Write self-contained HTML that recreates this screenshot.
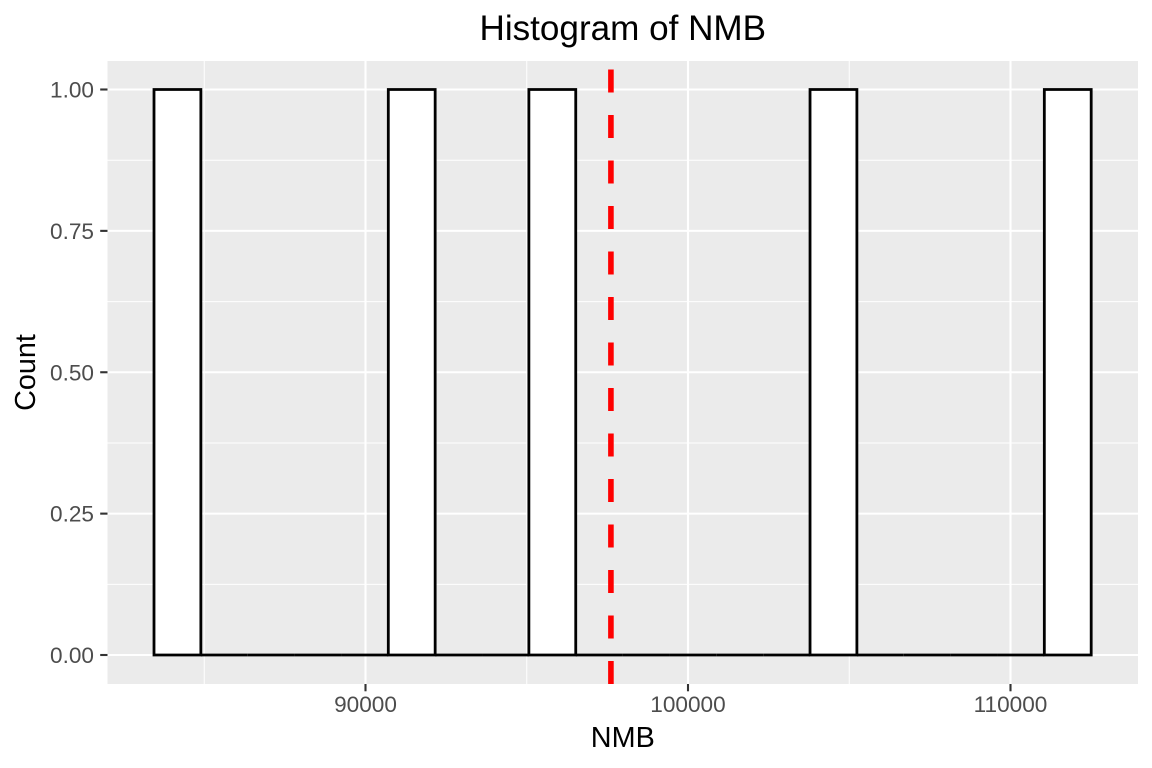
<!DOCTYPE html>
<html>
<head>
<meta charset="utf-8">
<title>Histogram of NMB</title>
<style>
html,body{margin:0;padding:0;background:#fff;width:1152px;height:768px;overflow:hidden}
svg{display:block}
text{font-family:"Liberation Sans",Arial,sans-serif}
</style>
</head>
<body>
<svg id="chart" width="1152" height="768" viewBox="0 0 1152 768" xmlns="http://www.w3.org/2000/svg">
<rect x="107.5" y="61" width="1030.5" height="623" fill="#ebebeb"/>
<g id="grid"></g>
<g id="bars"></g>
<g id="refline"></g>
<g id="xaxis"></g>
<g id="yaxis"></g>
<text x="622.8" y="40" text-anchor="middle" font-size="35.1" fill="#000">Histogram of NMB</text>
<text x="622.8" y="747" text-anchor="middle" font-size="28.8" fill="#000">NMB</text>
<text transform="translate(35,372.5) rotate(-90)" text-anchor="middle" font-size="28.8" fill="#000">Count</text>
</svg>
<script>
const binStart = 83442;
const binWidth = 1453;
const counts = [1,0,0,0,0,1,0,0,1,0,0,0,0,0,1,0,0,0,0,1];
const xTicks = [90000,100000,110000];
const xTickLabels = ['90000','100000','110000'];
const xMinorTicks = [85000,95000,105000];
const yTicks = [0,0.25,0.5,0.75,1];
const yTickLabels = ['0.00','0.25','0.50','0.75','1.00'];
const yMinorTicks = [0.125,0.375,0.625,0.875];
const meanValue = 97610;

const panelLeft = 107.5, panelRight = 1138, panelTop = 61, panelBottom = 684;
const SVGNS = 'http://www.w3.org/2000/svg';
function xScale(v){ return 365.5 + (v - 90000) * 0.03225; }
function yScale(v){ return 655 - v * 565.5; }
function make(parent, tag, attrs){
  const el = document.createElementNS(SVGNS, tag);
  for (const k in attrs) el.setAttribute(k, attrs[k]);
  parent.appendChild(el);
  return el;
}
const grid = document.getElementById('grid');
xMinorTicks.forEach(function(v){
  const el = make(grid, 'line', {x1:xScale(v), x2:xScale(v), y1:panelTop, y2:panelBottom, stroke:'#fff', 'stroke-width':1});
  
  
});
yMinorTicks.forEach(function(v){
  const el = make(grid, 'line', {x1:panelLeft, x2:panelRight, y1:yScale(v), y2:yScale(v), stroke:'#fff', 'stroke-width':1});
  
  
});
xTicks.forEach(function(v){
  const el = make(grid, 'line', {x1:xScale(v), x2:xScale(v), y1:panelTop, y2:panelBottom, stroke:'#fff', 'stroke-width':2.1});
  
  
});
yTicks.forEach(function(v){
  const el = make(grid, 'line', {x1:panelLeft, x2:panelRight, y1:yScale(v), y2:yScale(v), stroke:'#fff', 'stroke-width':2.1});
  
  
});
const bars = document.getElementById('bars');
counts.forEach(function(c, i){
  const x0 = xScale(binStart + i * binWidth);
  const x1 = xScale(binStart + (i + 1) * binWidth);
  const y0 = yScale(0), yt = yScale(c);
  const d = 'M' + x0 + ' ' + y0 + 'V' + yt + 'H' + x1 + 'V' + y0 + 'Z';
  const el = make(bars, 'path', {d:d, fill:'#fff', stroke:'#000', 'stroke-width':2.8, 'stroke-linejoin':'miter'});
  
  
});
const ref = document.getElementById('refline');
const meanLine = make(ref, 'line', {x1:xScale(meanValue), x2:xScale(meanValue), y1:panelBottom, y2:panelTop, stroke:'#ff0000', 'stroke-width':5.6, 'stroke-dasharray':'23 22.5'});


const xAxis = document.getElementById('xaxis');
xTicks.forEach(function(v, i){
  const t = make(xAxis, 'line', {x1:xScale(v), x2:xScale(v), y1:panelBottom, y2:panelBottom + 7.3, stroke:'#333', 'stroke-width':2.1});
  
  
  const l = make(xAxis, 'text', {x:xScale(v), y:712, 'text-anchor':'middle', 'font-size':22.6, fill:'#4d4d4d'});
  l.textContent = xTickLabels[i];
  
  
});
const yAxis = document.getElementById('yaxis');
yTicks.forEach(function(v, i){
  const t = make(yAxis, 'line', {x1:panelLeft - 7.3, x2:panelLeft, y1:yScale(v), y2:yScale(v), stroke:'#333', 'stroke-width':2.1});
  
  
  const l = make(yAxis, 'text', {x:94, y:yScale(v) + 8, 'text-anchor':'end', 'font-size':22.6, fill:'#4d4d4d'});
  l.textContent = yTickLabels[i];
  
  
});
</script>
</body>
</html>
